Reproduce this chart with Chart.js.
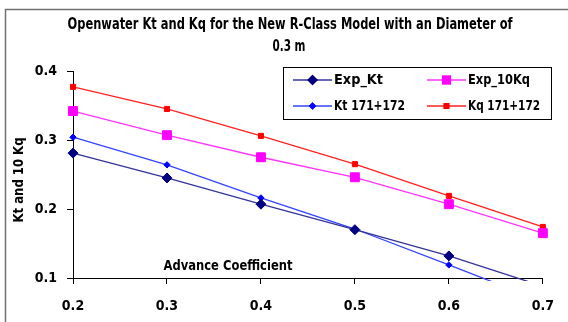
<!DOCTYPE html>
<html><head><meta charset="utf-8">
<script src="https://cdn.jsdelivr.net/npm/chart.js@4/dist/chart.umd.min.js"></script>
<style>html,body{margin:0;padding:0;background:#fff}#wrap{width:568px;height:322px}</style>
</head><body><div id="wrap"><canvas id="c" width="568" height="322"></canvas></div>
<script>
const advanceCoefficient = [0.2, 0.3, 0.4, 0.5, 0.6, 0.7];
const expKt   = [0.281, 0.245, 0.207, 0.170, 0.132, 0.088];
const expKq10 = [0.342, 0.307, 0.275, 0.246, 0.207, 0.165];
const kt171   = [0.304, 0.264, 0.216, 0.171, 0.119, 0.066];
const kq171   = [0.377, 0.345, 0.306, 0.265, 0.219, 0.174];
const yTicks = [0.1, 0.2, 0.3, 0.4];
const xTicks = [0.2, 0.3, 0.4, 0.5, 0.6, 0.7];
const titleLines = ['Openwater Kt and Kq for the New R-Class Model with an Diameter of', '0.3 m'];
const yTitle = 'Kt and 10 Kq';
const xTitle = 'Advance Coefficient';

const FONT = "'DejaVu Sans Condensed','Liberation Sans Narrow','Liberation Sans',Arial,sans-serif";
const pts = arr => advanceCoefficient.map((x, i) => ({x, y: arr[i]}));

function fitText(ctx, text, x, y, width, align) {
  const w = ctx.measureText(text).width;
  const s = width / w;
  ctx.save();
  ctx.translate(x, y);
  ctx.scale(s, 1);
  ctx.textAlign = align || 'center';
  ctx.fillText(text, 0, 0);
  ctx.restore();
}

const deco = {
  id: 'deco',
  afterDraw(chart) {
    const ctx = chart.ctx;
    ctx.save();
    ctx.strokeStyle = '#707070';
    ctx.lineWidth = 1.5;
    ctx.beginPath();
    ctx.moveTo(5.5, 322); ctx.lineTo(5.5, 9.5); ctx.lineTo(568, 9.5);
    ctx.stroke();
    ctx.fillStyle = '#000';
    ctx.textBaseline = 'middle';
    ctx.font = 'bold 15px ' + FONT;
    fitText(ctx, titleLines[0], 290, 25, 445);
    fitText(ctx, titleLines[1], 289, 47, 33);
    ctx.font = 'bold 14px ' + FONT;
    fitText(ctx, xTitle, 228, 266, 129);
    ctx.save();
    ctx.translate(19, 180);
    ctx.rotate(-Math.PI / 2);
    fitText(ctx, yTitle, 0, 0, 85);
    ctx.restore();
    // legend
    ctx.fillStyle = '#fff';
    ctx.fillRect(283.5, 67.5, 268, 52);
    ctx.strokeStyle = '#000';
    ctx.lineWidth = 1;
    ctx.strokeRect(283.5, 67.5, 268, 52);
    const pos = [[293, 80], [293, 106], [427, 80], [427, 106]];
    const widths = [49, 71, 62, 72];
    chart.data.datasets.forEach((ds, k) => {
      const [lx, ly] = pos[k];
      ctx.strokeStyle = ds.borderColor;
      ctx.lineWidth = 1.5;
      ctx.beginPath(); ctx.moveTo(lx, ly); ctx.lineTo(lx + 39, ly); ctx.stroke();
      Chart.helpers.drawPoint(ctx, {pointStyle: ds.pointStyle, rotation: 0, borderWidth: 1,
        radius: ds.pointRadius * 0.85}, lx + 19.5, ly);
      ctx.fillStyle = ds.pointBackgroundColor;
      ctx.strokeStyle = ds.pointBorderColor;
      ctx.fill(); ctx.stroke();
      ctx.fillStyle = '#000';
      ctx.font = 'bold 14px ' + FONT;
      fitText(ctx, ds.label, lx + 41, ly, widths[k], 'left');
    });
    ctx.restore();
  }
};

new Chart(document.getElementById('c'), {
  type: 'line',
  data: {
    datasets: [
      {label: 'Exp_Kt', data: pts(expKt), borderColor: '#33339a', pointStyle: 'rectRot', pointRadius: 5,
       pointBackgroundColor: '#000080', pointBorderColor: '#000080'},
      {label: 'Kt 171+172', data: pts(kt171), borderColor: '#3344ff', pointStyle: 'rectRot', pointRadius: 3.2,
       pointBackgroundColor: '#0000ff', pointBorderColor: '#0000ff'},
      {label: 'Exp_10Kq', data: pts(expKq10), borderColor: '#ff33ff', pointStyle: 'rect', pointRadius: 6.3,
       pointBackgroundColor: '#ff00ff', pointBorderColor: '#ff00ff'},
      {label: 'Kq 171+172', data: pts(kq171), borderColor: '#ff2020', pointStyle: 'rect', pointRadius: 3.6,
       pointBackgroundColor: '#ff0000', pointBorderColor: '#ff0000'}
    ].map(d => Object.assign({borderWidth: 1.3, pointBorderWidth: 1, tension: 0, fill: false,
      clip: {left: 10, top: 10, right: 10, bottom: 3}}, d))
  },
  options: {
    responsive: false,
    animation: false,
    layout: {padding: {top: 71, right: 11, left: 0, bottom: 0}},
    plugins: {legend: {display: false}, title: {display: false}, tooltip: {enabled: false}},
    scales: {
      x: {
        type: 'linear', min: 0.2, max: 0.7,
        afterFit: s => { s.height = 44; },
        afterBuildTicks: s => { s.ticks = xTicks.map(v => ({value: v})); },
        grid: {display: true, drawOnChartArea: false, drawTicks: true, tickLength: 6, color: '#000'},
        border: {color: '#000', width: 1},
        ticks: {color: '#000', padding: 14, maxRotation: 0, font: {family: FONT, size: 14, weight: 'bold'},
          callback: v => v.toFixed(1)}
      },
      y: {
        min: 0.1, max: 0.4,
        afterFit: s => { s.width = 73; },
        afterBuildTicks: s => { s.ticks = yTicks.map(v => ({value: v})); },
        grid: {display: true, drawOnChartArea: false, drawTicks: true, tickLength: 6, color: '#000'},
        border: {color: '#000', width: 1},
        ticks: {color: '#000', padding: 10, font: {family: FONT, size: 14, weight: 'bold'},
          callback: v => v.toFixed(1)}
      }
    }
  },
  plugins: [deco]
});
</script>
</body></html>
